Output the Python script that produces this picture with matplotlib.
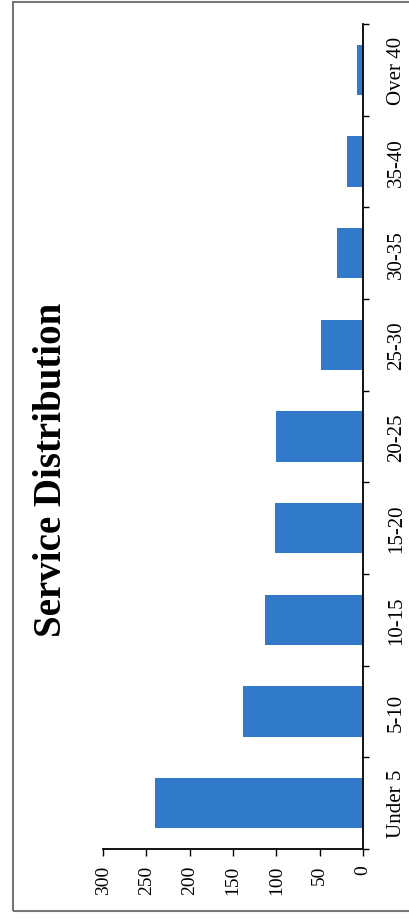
import numpy as np
import matplotlib
matplotlib.use('Agg')
import matplotlib.pyplot as plt
from matplotlib.patches import Rectangle

# data
categories = ['Under 5', '5-10', '10-15', '15-20', '20-25', '25-30', '30-35', '35-40', 'Over 40']
counts = [240, 138, 113, 102, 101, 48, 30, 18, 7]
value_ticks = [0, 50, 100, 150, 200, 250, 300]

plt.rcParams['font.family'] = ['Liberation Serif', 'DejaVu Serif']

fig = plt.figure(figsize=(4.09, 9.2), dpi=100)
ax = fig.add_axes([0.252, 0.0761, 0.6357, 0.8967])

ypos = np.arange(len(categories))
ax.barh(ypos, counts, height=0.55, color='#3179c9')

# page is turned: value axis runs right-to-left along the bottom
ax.set_xlim(300, 0)
ax.set_ylim(-0.5, len(categories) - 0.5)
ax.set_xticks(value_ticks)
ax.set_xticklabels([str(v) for v in value_ticks], rotation=90, fontsize=14)
ax.tick_params(axis='x', direction='out', length=5, width=1, pad=6)

ax.yaxis.tick_right()
ax.set_yticks(ypos)
ax.set_yticklabels(categories, rotation=90, va='center', fontsize=15)
ax.set_yticks(np.arange(len(categories) + 1) - 0.5, minor=True)
ax.tick_params(axis='y', which='major', length=0, pad=17)
ax.tick_params(axis='y', which='minor', direction='out', length=4, width=1)

for s in ['left', 'top']:
    ax.spines[s].set_visible(False)
for s in ['bottom', 'right']:
    ax.spines[s].set_linewidth(1.3)
    ax.spines[s].set_color('black')

fig.text(52 / 409, 1 - 470 / 920, 'Service Distribution', rotation=90,
         ha='center', va='center', fontsize=28, fontweight='bold')

# scanned page border
fig.add_artist(Rectangle((13 / 409, 1 - 912 / 920), 1.0, 909 / 920,
                         transform=fig.transFigure, fill=False,
                         edgecolor='#777777', linewidth=1.5))

fig.savefig('out.png', dpi=100)
